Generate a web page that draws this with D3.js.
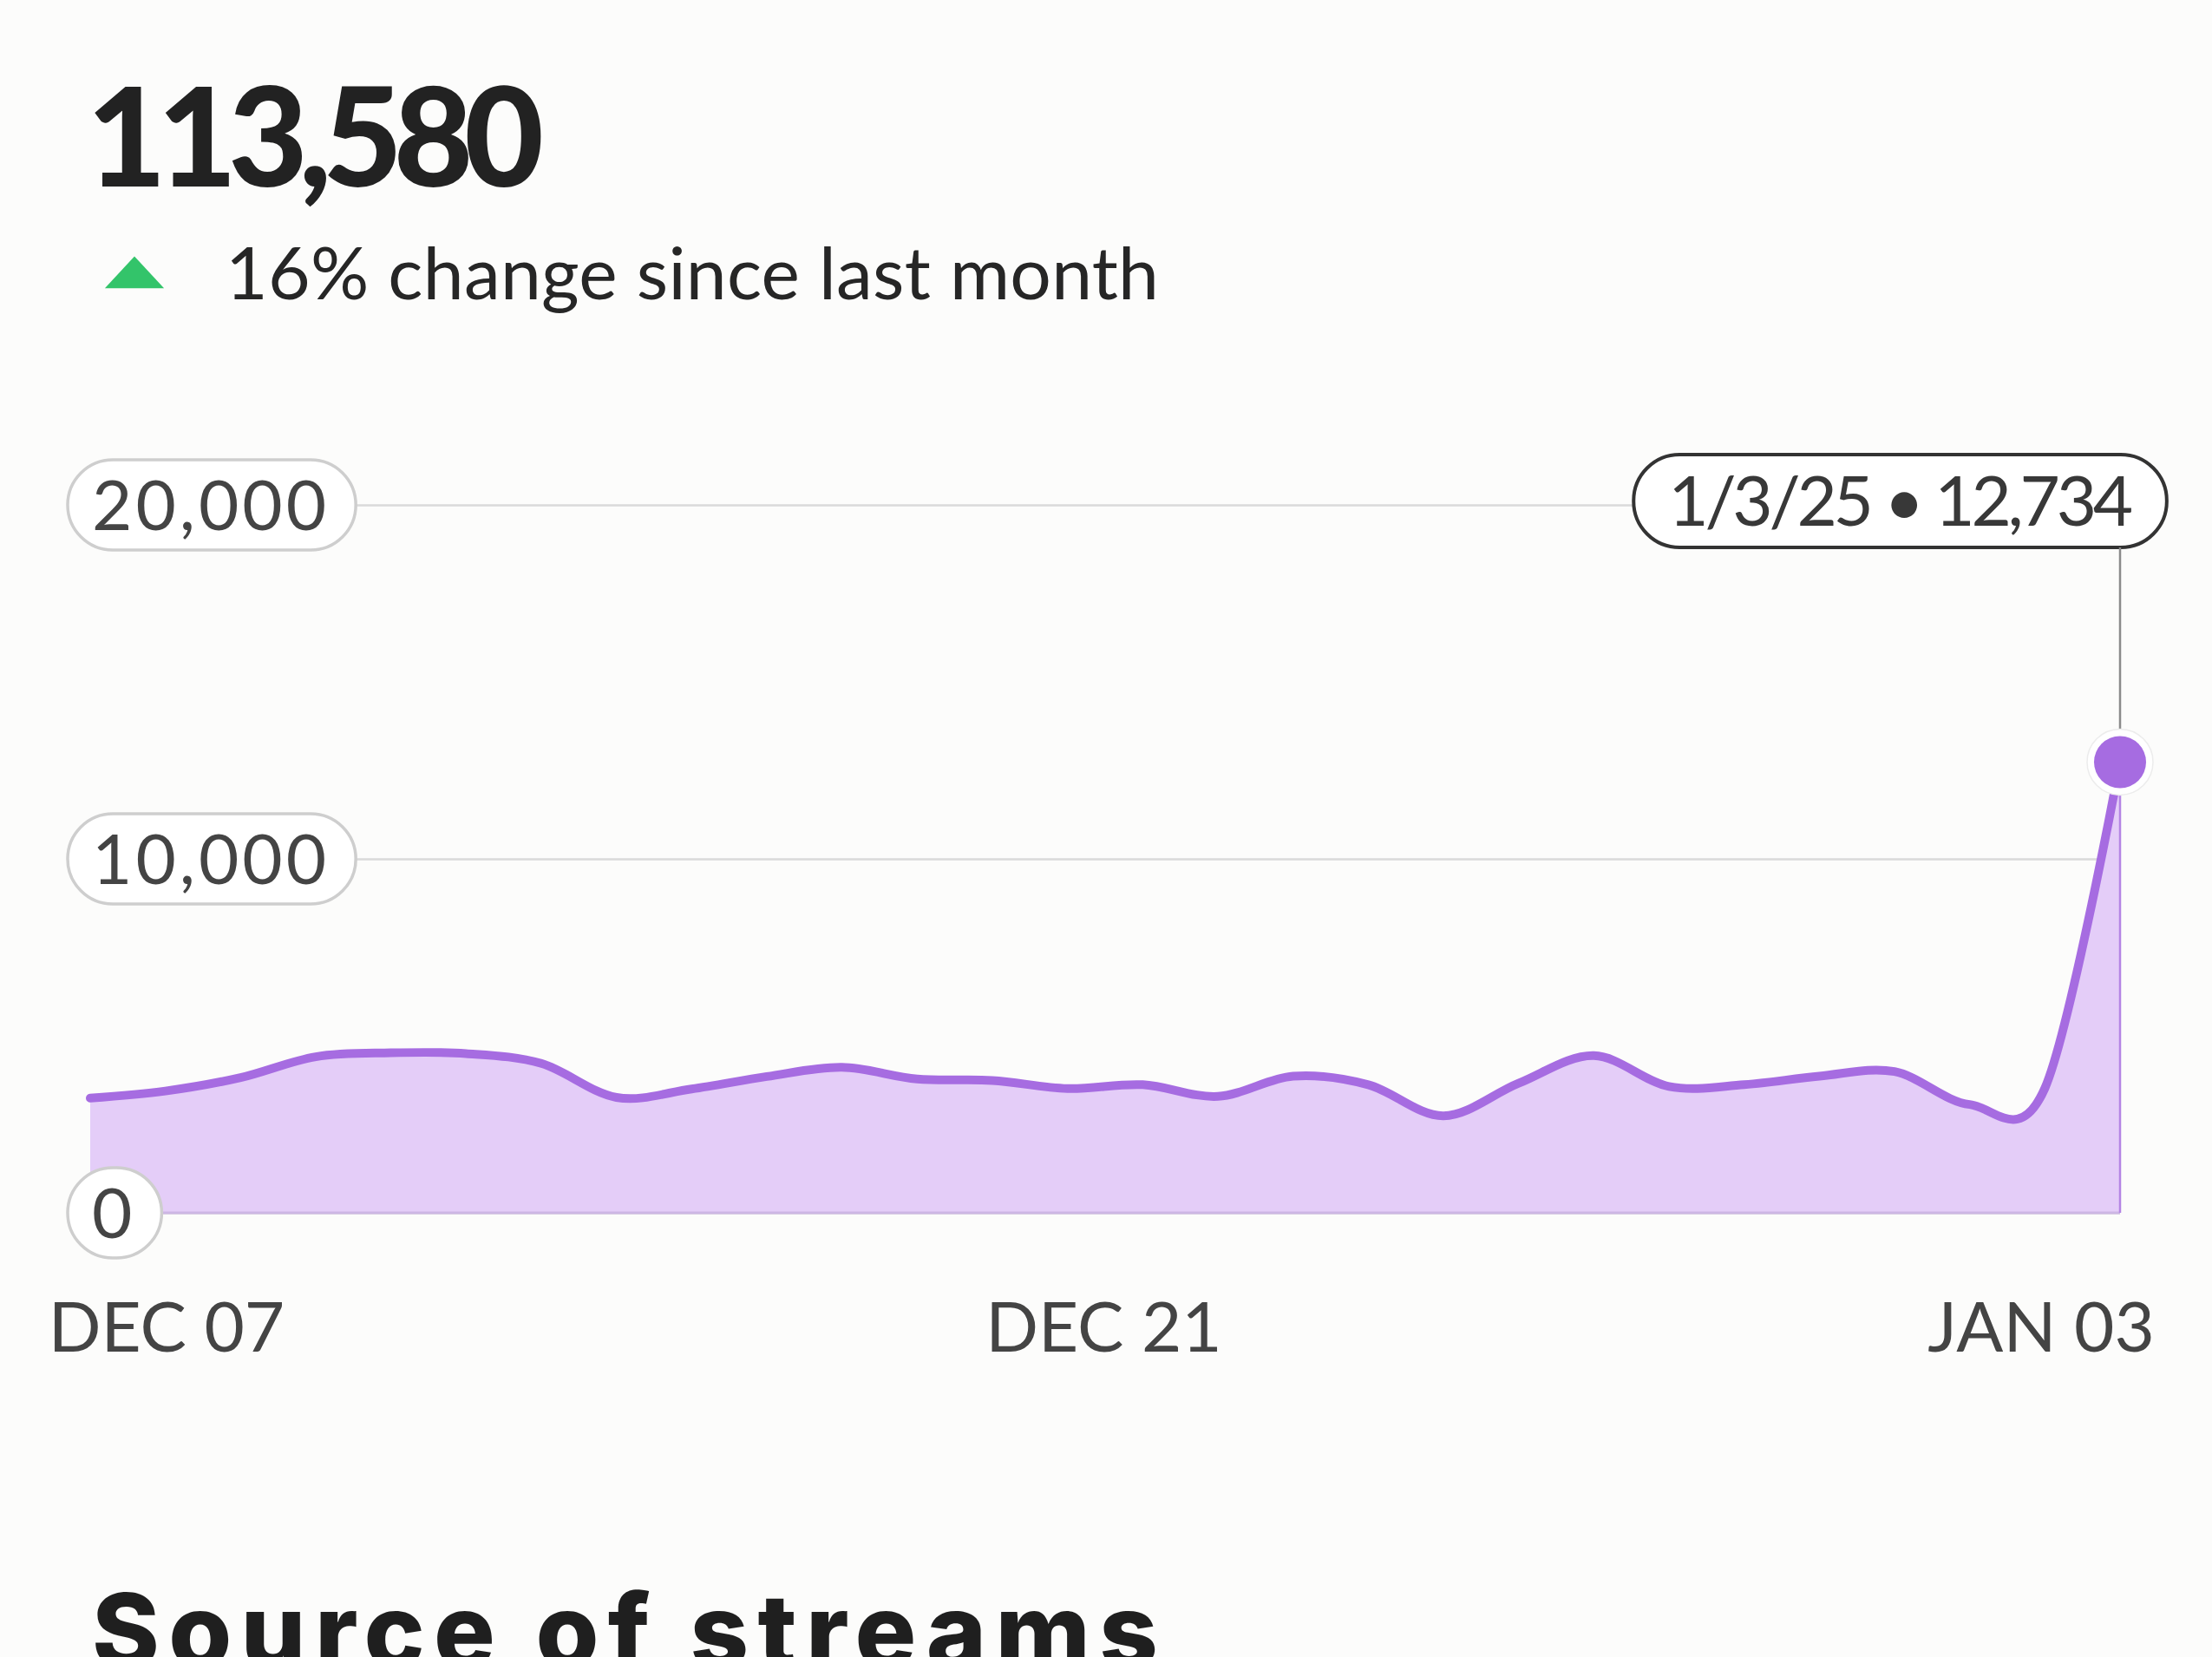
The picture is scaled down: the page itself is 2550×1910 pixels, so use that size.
<!DOCTYPE html>
<html>
<head>
<meta charset="utf-8">
<script src="https://cdn.jsdelivr.net/npm/d3@7"></script>
<style>
  html, body { margin: 0; padding: 0; background: #fcfcfb; }
  svg { display: block; }
</style>
</head>
<body>
<svg width="2550" height="1910" font-family="Lato, 'Noto Sans', sans-serif"></svg>
<script>
// daily streams, Dec 7 2024 -> Jan 3 2025
const dates = [
  "2024-12-07", "2024-12-08", "2024-12-09", "2024-12-10", "2024-12-11", "2024-12-12", "2024-12-13",
  "2024-12-14", "2024-12-15", "2024-12-16", "2024-12-17", "2024-12-18", "2024-12-19", "2024-12-20",
  "2024-12-21", "2024-12-22", "2024-12-23", "2024-12-24", "2024-12-25", "2024-12-26", "2024-12-27",
  "2024-12-28", "2024-12-29", "2024-12-30", "2024-12-31", "2025-01-01", "2025-01-02", "2025-01-03"
];
const streams = [
  3240, 3440, 3820, 4410, 4520, 4500, 4220,
  3260, 3500, 3850, 4110, 3780, 3740, 3510,
  3620, 3290, 3860, 3620, 2740, 3660, 4440,
  3570, 3620, 3860, 3990, 3060, 3520, 12734
];
const yTicks = [0, 10000, 20000];
const xTickLabels = ["DEC 07", "DEC 21", "JAN 03"];
const totalLabel = "113,580";
const changeLabel = "16% change since last month";
const sectionTitle = "Source of streams";

const svg = d3.select("svg");

const lineColor = "#a66ce1";
const fillColor = "#e4cdf8";

const parse = d3.timeParse("%Y-%m-%d");
const data = dates.map((d, i) => ({ date: parse(d), value: streams[i] }));
const last = data[data.length - 1];

const x = d3.scaleTime()
  .domain(d3.extent(data, d => d.date))
  .range([104, 2444]);
const y = d3.scaleLinear()
  .domain([0, 20000])
  .range([1398, 582]);

// stretch letter spacing so a text gets a given width
function fitSpacing(t, w) {
  const n = t.text().length;
  const len = t.node().getComputedTextLength();
  t.attr("letter-spacing", (w - len) / (n - 1));
}

// header
const title = svg.append("text")
  .attr("x", 100).attr("y", 215)
  .attr("font-size", 158).attr("font-weight", 900)
  .attr("fill", "#222")
  .text(totalLabel);
fitSpacing(title, 527);

svg.append("path")
  .attr("d", d3.symbol(d3.symbolTriangle, 1400)())
  .attr("transform", "translate(155,320) scale(1.2,0.75)")
  .attr("fill", "#33c46a");

const change = svg.append("text")
  .attr("x", 260).attr("y", 345)
  .attr("font-size", 84)
  .attr("fill", "#262626")
  .text(changeLabel);
fitSpacing(change, 1076);

// gridlines
const grid = svg.append("g")
  .attr("transform", `translate(${x.range()[0]},0)`)
  .call(d3.axisLeft(y).tickValues(yTicks).tickSize(-(x.range()[1] - x.range()[0])).tickFormat(""));
grid.select(".domain").remove();
grid.selectAll("line").attr("stroke", "#dadada").attr("stroke-width", 2.5);

// area + line
const curve = d3.curveCatmullRom.alpha(0);
const area = d3.area()
  .x(d => x(d.date))
  .y0(y(0))
  .y1(d => y(d.value))
  .curve(curve);
const line = d3.line()
  .x(d => x(d.date))
  .y(d => y(d.value))
  .curve(curve);

svg.append("path")
  .attr("d", area(data))
  .attr("fill", fillColor);

svg.append("line")
  .attr("x1", x.range()[0]).attr("x2", x(last.date))
  .attr("y1", y(0)).attr("y2", y(0))
  .attr("stroke", "#cdb6e4").attr("stroke-width", 3);
svg.append("line")
  .attr("x1", x(last.date)).attr("x2", x(last.date))
  .attr("y1", y(0)).attr("y2", y(last.value))
  .attr("stroke", "#b484e4").attr("stroke-width", 2.5);

svg.append("path")
  .attr("d", line(data))
  .attr("fill", "none")
  .attr("stroke", lineColor)
  .attr("stroke-width", 10)
  .attr("stroke-linecap", "round")
  .attr("stroke-linejoin", "round");

// y labels in pills
const fmt = d3.format(",");
const yLab = svg.append("g").selectAll("g")
  .data(yTicks)
  .join("g")
  .attr("transform", d => `translate(78,${y(d)})`);
yLab.each(function(d) {
  const g = d3.select(this);
  const rect = g.append("rect");
  const t = g.append("text")
    .attr("x", 28).attr("y", 29)
    .attr("font-size", 80)
    .attr("letter-spacing", 4)
    .attr("fill", "#444")
    .text(fmt(d));
  const w = t.node().getComputedTextLength();
  rect.attr("x", 0).attr("y", -52)
    .attr("width", Math.max(w + 58, 104)).attr("height", 104)
    .attr("rx", 52)
    .attr("fill", "#fff")
    .attr("stroke", "#cecece").attr("stroke-width", 3.5);
});

// tooltip for the last day
const tipText = d3.timeFormat("%-m/%-d/%y")(last.date) + " \u2022 " + fmt(last.value);
const tip = svg.append("g");
const tipRect = tip.append("rect");
const tipLabel = tip.append("text")
  .attr("font-size", 80)
  .attr("fill", "#383838")
  .attr("text-anchor", "end")
  .attr("x", x(last.date) + 11)
  .attr("y", y(20000) + 24)
  .text(tipText);
fitSpacing(tipLabel, 536);
const tb = tipLabel.node().getBBox();
tipRect.attr("x", tb.x - 40).attr("width", tb.width + 80)
  .attr("y", y(20000) - 58).attr("height", 107)
  .attr("rx", 53)
  .attr("fill", "#fff")
  .attr("stroke", "#333").attr("stroke-width", 4);

svg.append("line")
  .attr("x1", x(last.date)).attr("x2", x(last.date))
  .attr("y1", y(20000) + 49).attr("y2", y(last.value) - 36)
  .attr("stroke", "#8a8a8a").attr("stroke-width", 2.5);

svg.append("circle")
  .attr("cx", x(last.date)).attr("cy", y(last.value))
  .attr("r", 38)
  .attr("fill", "#fff").attr("stroke", "#ececec").attr("stroke-width", 1.5);
svg.append("circle")
  .attr("cx", x(last.date)).attr("cy", y(last.value))
  .attr("r", 30)
  .attr("fill", lineColor);

// x labels
const xLab = d3.scalePoint().domain(xTickLabels).range([192, 2353]);
svg.append("g").selectAll("text")
  .data(xTickLabels)
  .join("text")
  .attr("x", d => xLab(d))
  .attr("y", 1558)
  .attr("text-anchor", "middle")
  .attr("font-size", 80)
  .attr("fill", "#444")
  .text(d => d);

// next section heading, cut by the bottom edge as in the screen
const sec = svg.append("text")
  .attr("x", 106).attr("y", 1922)
  .attr("font-family", "Inter, Lato, sans-serif")
  .attr("font-size", 118).attr("font-weight", 800)
  .attr("fill", "#1f1f1f")
  .text(sectionTitle);
fitSpacing(sec, 1229);
</script>
</body>
</html>
